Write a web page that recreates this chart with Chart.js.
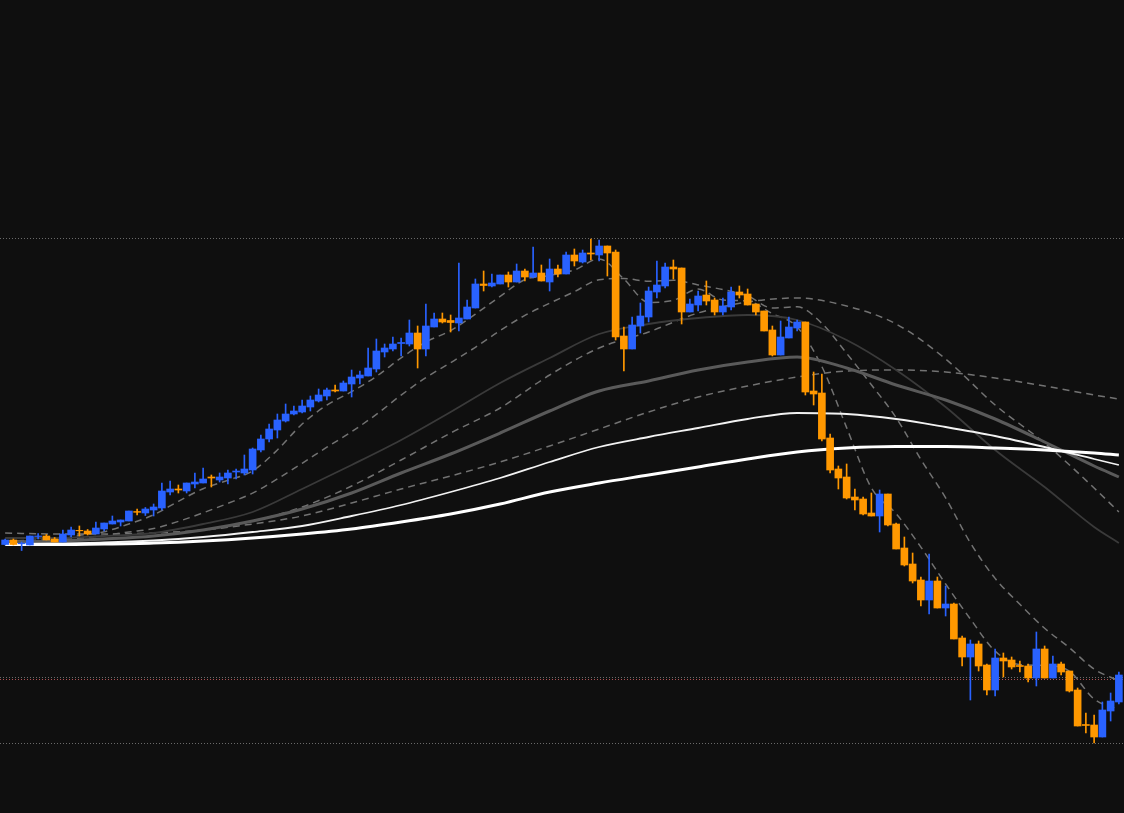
<!DOCTYPE html>
<html><head><meta charset="utf-8">
<style>html,body{margin:0;padding:0;background:#0f0f0f;overflow:hidden;}</style>
<script src="https://cdn.jsdelivr.net/npm/chart.js@4.4.1/dist/chart.umd.min.js"></script>
</head><body>
<canvas id="c" width="1124" height="813"></canvas>
<script>
// ---- OHLC data (price units) ----
const opens = [455.5,460,456.2,455,463.5,464,461,458,465,469.7,469,466,471,476,478,479,488.5,487,490,492,508,511,509,516,517,523,520,522,528,527,530,550,561,570,579,586,588,593,599,604,610,609,616,622,624,631,648,651,656.5,656,667,651,673,681,679.5,677,681,692,716,714,716,725,718,729,723,727,718,731,726,745,738,747,745,754,748,664,651,674,683,708,714,733,732,688,695,705,700,688,693,708,706,696,689,670,645,662,672,678,609,607,562,531,523,503,501,487,484,506,476,452,436,420,400,419,392,396,362,343,356,335,310,342,340,334.5,334,322,351,322,336,329,310,275.5,275,263,289,298];
const highs = [461,461,458,464,466.5,465.5,462.5,470,473,474,470.5,478,477,484,480,489,491,492.5,496,517,519,515,517,527,532,525,527,530,531,545,552,565,576,586,596,594,600,604,611,612,615,619,630,629,652,661,656,663,662,680,674,696,687,687,685,737,700,721,729,726,725,728,736,731,753,735,741,735,748,751,750,761,760,754,750,673,683,697,713,739,737,740,732,701,709,719,702,702,713,714,711,696,689,674,679,683,680,678,628,626,566,534,536,511,503,507,510,506,477,463,447,423,446,423,414,397,364,360,359,336,351,347,343,339,336,368,354,344,338,329,312,287,285,298,307,328];
const lows = [455,455,449.5,455,461,460,458,458,463,464,465,466,469,476,474,479,485,484.5,484,490,505,507,507,512,517,513,518,516,521,525,526,548,558,562,578,585,587,589,598,600,608,609,603,616,624,628,643,649,644,654,632,644,673,677,668,669,681,692,709,713,716,713,718,719,722,719,709,723,726,734,737,740,739,724,660,629,651,667,678,702,712,721,676,688,689,695,685,685,690,702,695,685,669,644,645,662,669,605,595,559,527,511,501,490,485,484,468,474,451,434,417,394,386,392,384,361,334,300,329,305,304,323,331,328,318,314,322,322,325,308,274,267,257,263,279,296];
const closes = [460,455.5,456.8,464,464,460,458,466,470,469.2,466,472,477,479,480,489,487.7,491,493,509,511,510,517,518,521,522,523,527,529,531,551,561,571,580,586,589,594,600,605,610,609,617,623,625,632,649,652,656,657.5,667,651,674,681,678,677.5,682,693,716,714.5,717,725,718,729,723,727,719,731,726,745,739,747,746,754,747,663,651,675,684,709,715,733,731,688,696,704,699,688,694,708,705,695,688,669,645,663,673,678,608,606,561,530,522,502,500,486,484,506,475,451,435,419,400,419,392,396,361,343,356,334,310,342,339,333,333.5,322,351,322,336,328,309,274,274.5,263,290,299,325];

// ---- moving-average lines, read at sample bars ----
const fastBars = [0,3,6,9,12,15,18,21,24,27,30,33,36,39,42,45,48,51,54,57,60,63,66,69,72,75,78,81,84,87,90,93,96,99,102,105,108,111,114,117,120,123,126,129,132,135];
const ma7 = [459,459,459.8,464.5,468.3,476,485.2,498.7,511.3,519.7,529.1,550,576,594.9,608.3,623.6,642.1,658.1,669.4,685.9,703.6,720.4,724.6,730,741.1,721,697.6,699.7,710.9,700,699,686.3,673,633.4,572.4,512.1,486.3,452.9,416,381,348.9,335.4,334.6,328.8,300.9,290.6];
const ma20 = [459,459,459.5,462,464.5,468,471.5,478.6,487.2,496.6,506.9,521.1,536.7,552.8,568.3,585.6,604.9,622.4,637.3,652.7,669.4,684.6,696.8,708.3,720.3,721.5,718.7,719.7,715.1,710.4,704.2,692,693.2,676.6,646.7,615.2,582.3,540.6,502.1,457.2,421.6,395.7,371.7,352.3,330.9,319.2];
const slowBars = [0,6,12,18,24,30,36,42,48,54,60,66,72,78,84,90,96,102,108,114,120,126,132,135];
const ma50 = [459,460,461,464,470,479,493,514,540,567,592,625,652,668,687,698,702,694,676,641,595,557,512,488];
const ma60 = [462,462,464,467,476,488,511,535,560,588,617,642,666,676,682,685,680,660,630,593,550,513,473,457];
const ma100 = [458,459,461,464,470,479,491,507,527,546,567,589,609,619,630,638,643,632,615,600,581,558,534,523];
const ma120 = [467,466,466,467,470,476,484,497,511,524,538,554,571,588,603,614,623,629,630,628,622,614,605,601];
const ma150 = [456,456.5,457.5,459.5,463,468,474,484,495,508,522,538,553,563,572,581,587,586,581,573,564,553,541,535];
const ma200 = [455.5,455.5,456,457,459,462,466,471,478,486,496,508,517,525,533,541,548,552,553.5,553.5,552,550,547,545];

// ---- horizontal price levels ----
const levels = [762, 322.5, 320.5, 257];
const levelColors = ['#6a6a6a', '#6a6a6a', '#b05050', '#6a6a6a'];

const categories = opens.map((_, i) => 'Bar ' + (i + 1));
const UP = '#2962ff', DOWN = '#ff9800';
const candleColors = opens.map((o, i) => closes[i] >= o ? UP : DOWN);
const bodies = opens.map((o, i) => [o, closes[i]]);
const wicks = lows.map((l, i) => [l, highs[i]]);

function sparse(bars, vals) {
  const a = new Array(categories.length).fill(null);
  bars.forEach((b, j) => { a[b] = vals[j]; });
  return a;
}
function lineDs(bars, vals, color, width, dash, order) {
  return {
    type: 'line', data: sparse(bars, vals), borderColor: color, borderWidth: width,
    borderDash: dash, pointRadius: 0, pointHoverRadius: 0, spanGaps: true,
    cubicInterpolationMode: 'monotone', fill: false, order: order,
    borderCapStyle: 'butt', borderJoinStyle: 'round'
  };
}

const levelPlugin = {
  id: 'levels',
  beforeDatasetsDraw(chart) {
    const { ctx, scales: { y } } = chart;
    levels.forEach((v, k) => {
      const py = Math.floor(y.getPixelForValue(v)) + 0.5;
      ctx.save();
      ctx.strokeStyle = levelColors[k];
      ctx.lineWidth = 1;
      ctx.setLineDash([1, 2]);
      ctx.beginPath();
      ctx.moveTo(0, py);
      ctx.lineTo(chart.width, py);
      ctx.stroke();
      ctx.restore();
    });
  }
};

new Chart(document.getElementById('c'), {
  type: 'bar',
  data: {
    labels: categories,
    datasets: [
      { type: 'bar', data: bodies, backgroundColor: candleColors, barThickness: 7, grouped: false, order: 0, borderWidth: 0 },
      { type: 'bar', data: wicks, backgroundColor: candleColors, barThickness: 1, grouped: false, order: 1, borderWidth: 0 },
      lineDs(slowBars, ma200, '#ffffff', 3, [], 2),
      lineDs(slowBars, ma150, '#f2f2f2', 1.8, [], 3),
      lineDs(slowBars, ma100, '#5a5a5a', 3, [], 4),
      lineDs(slowBars, ma60, '#3a3a3a', 1.8, [], 5),
      lineDs(slowBars, ma120, '#727272', 1.5, [7, 5], 6),
      lineDs(slowBars, ma50, '#727272', 1.5, [7, 5], 7),
      lineDs(fastBars, ma20, '#727272', 1.5, [7, 5], 8),
      lineDs(fastBars, ma7, '#727272', 1.5, [7, 5], 9)
    ]
  },
  options: {
    responsive: false,
    devicePixelRatio: 1,
    animation: false,
    layout: { padding: { left: 1, right: 1, top: 0, bottom: 0 } },
    plugins: { legend: { display: false }, tooltip: { enabled: false } },
    scales: {
      x: { type: 'category', display: false, offset: true, grid: { display: false } },
      y: { type: 'linear', display: false, min: 187, max: 1000, grid: { display: false } }
    }
  },
  plugins: [levelPlugin]
});
</script>
</body></html>
